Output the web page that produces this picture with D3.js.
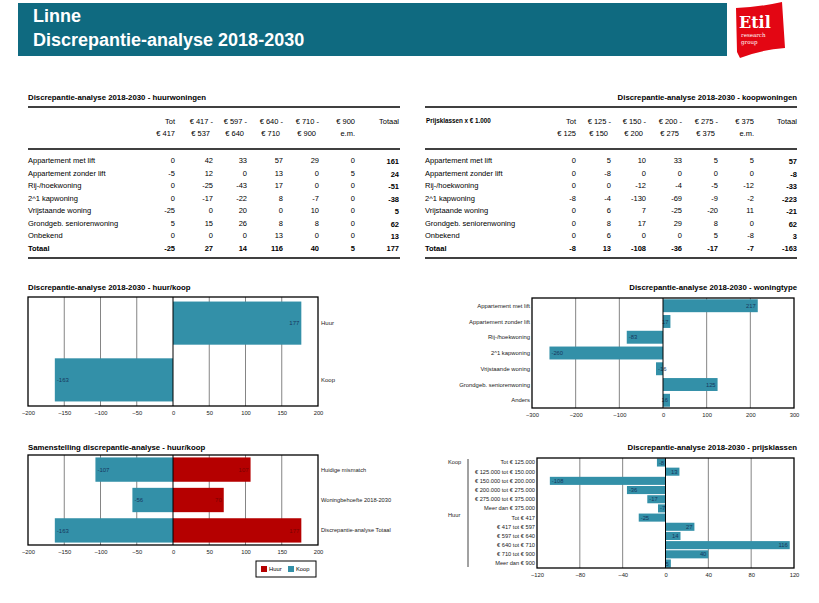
<!DOCTYPE html>
<html><head><meta charset="utf-8">
<script src="https://cdn.jsdelivr.net/npm/d3@7"></script>
<style>
body{margin:0;background:#fff;}
svg{font-family:"Liberation Sans",Arial,sans-serif;}
</style></head>
<body><svg id="c" width="819" height="603"></svg>
<script>
// ---------- DATA ----------
const pageTitle = "Linne";
const pageSubtitle = "Discrepantie-analyse 2018-2030";

const rowLabels = ["Appartement met lift","Appartement zonder lift","Rij-/hoekwoning","2^1 kapwoning","Vrijstaande woning","Grondgeb. seniorenwoning","Onbekend","Totaal"];

const huurHeaders = [["Tot","€ 417"],["€ 417 -","€ 537"],["€ 597 -","€ 640"],["€ 640 -","€ 710"],["€ 710 -","€ 900"],["€ 900","e.m."],["Totaal",""]];
const huurValues = [
  [0,42,33,57,29,0,161],
  [-5,12,0,13,0,5,24],
  [0,-25,-43,17,0,0,-51],
  [0,-17,-22,8,-7,0,-38],
  [-25,0,20,0,10,0,5],
  [5,15,26,8,8,0,62],
  [0,0,0,13,0,0,13],
  [-25,27,14,116,40,5,177]
];

const koopHeaders = [["Tot","€ 125"],["€ 125 -","€ 150"],["€ 150 -","€ 200"],["€ 200 -","€ 275"],["€ 275 -","€ 375"],["€ 375","e.m."],["Totaal",""]];
const koopValues = [
  [0,5,10,33,5,5,57],
  [0,-8,0,0,0,0,-8],
  [0,0,-12,-4,-5,-12,-33],
  [-8,-4,-130,-69,-9,-2,-223],
  [0,6,7,-25,-20,11,-21],
  [0,8,17,29,8,0,62],
  [0,6,0,0,5,-8,3],
  [-8,13,-108,-36,-17,-7,-163]
];

const huurKoopCats = ["Huur","Koop"];
const huurKoopValues = [177,-163];
const huurKoopTicks = [-200,-150,-100,-50,0,50,100,150,200];

const woningtypeCats = ["Appartement met lift","Appartement zonder lift","Rij-/hoekwoning","2^1 kapwoning","Vrijstaande woning","Grondgeb. seniorenwoning","Anders"];
const woningtypeValues = [217,17,-83,-260,-16,125,16];
const woningtypeTicks = [-300,-200,-100,0,100,200,300];

const samenCats = ["Huidige mismatch","Woningbehoefte 2018-2030","Discrepantie-analyse Totaal"];
const samenHuur = [107,70,177];
const samenKoop = [-107,-56,-163];
const samenTicks = [-200,-150,-100,-50,0,50,100,150,200];
const legendLabels = ["Huur","Koop"];

const prijsCats = ["Tot € 125.000","€ 125.000 tot € 150.000","€ 150.000 tot € 200.000","€ 200.000 tot € 275.000","€ 275.000 tot € 375.000","Meer dan € 375.000","Tot € 417","€ 417 tot € 597","€ 597 tot € 640","€ 640 tot € 710","€ 710 tot € 900","Meer dan € 900"];
const prijsValues = [-8,13,-108,-36,-17,-7,-25,27,14,116,40,5];
const prijsGroups = [{label:"Koop",first:0},{label:"Huur",first:6}];
const prijsTicks = [-120,-80,-40,0,40,80,120];

// ---------- STYLE ----------
const TEAL = "#3390a8", RED = "#b50000";
const TEAL_TXT = "#17375e", RED_TXT = "#7a0000";
const svg = d3.select("#c");

// ---------- HEADER ----------
svg.append("rect").attr("x",18).attr("y",3).attr("width",709).attr("height",53).attr("fill","#0f6a80");
svg.append("text").attr("x",33).attr("y",22).attr("fill","#fff").attr("font-size",18).attr("font-weight","bold").text(pageTitle);
svg.append("text").attr("x",33).attr("y",46).attr("fill","#fff").attr("font-size",18).attr("font-weight","bold").text(pageSubtitle);
// logo
svg.append("path").attr("d","M736,8 Q760,7 782,2 L785,48 Q760,50 740,58 L737,52 Z").attr("fill","#e30613");
svg.append("text").attr("x",739).attr("y",28).attr("fill","#fff").attr("font-family","'DejaVu Serif',serif").attr("font-weight","bold").attr("font-size",16).text("Etil");
svg.append("text").attr("x",741).attr("y",37).attr("fill","#fff").attr("font-family","'DejaVu Serif',serif").attr("font-size",5.5).text("research");
svg.append("text").attr("x",741).attr("y",44).attr("fill","#fff").attr("font-family","'DejaVu Serif',serif").attr("font-size",5.5).text("group");

// ---------- TABLES ----------
function drawTable(opts){
  const g = svg.append("g");
  const {x0,x1,title,titleAnchor,headers,values,colX,corner} = opts;
  g.append("text").attr("x", titleAnchor==="end"?x1:x0).attr("y",100).attr("text-anchor",titleAnchor)
    .attr("font-size",7.8).attr("font-weight","bold").text(title);
  [107,149,258].forEach(y=>g.append("line").attr("x1",x0).attr("x2",x1).attr("y1",y).attr("y2",y).attr("stroke","#000").attr("stroke-width",1.4));
  if(corner) g.append("text").attr("x",x0+1).attr("y",123).attr("font-size",6.3).attr("font-weight","bold").text(corner);
  headers.forEach((h,i)=>{
    const off = h[0].endsWith("-") ? 3 : 0;
    g.append("text").attr("x",colX[i]).attr("y",124).attr("text-anchor","end").attr("font-size",7.5).text(h[0]);
    if(h[1]) g.append("text").attr("x",colX[i]-off).attr("y",136).attr("text-anchor","end").attr("font-size",7.5).text(h[1]);
  });
  const rowY = d3.scalePoint().domain(d3.range(rowLabels.length)).range([163,251]);
  rowLabels.forEach((lab,r)=>{
    const bold = r===rowLabels.length-1;
    g.append("text").attr("x",x0).attr("y",rowY(r)).attr("font-size",7.5).attr("font-weight",bold?"bold":"normal").text(lab);
    values[r].forEach((v,c)=>{
      g.append("text").attr("x",colX[c]).attr("y",rowY(r)+(c===6&&!bold?1:0)).attr("text-anchor","end").attr("font-size",7.5)
        .attr("font-weight",(bold||c===6)?"bold":"normal").text(v);
    });
  });
}
drawTable({x0:28,x1:400,title:"Discrepantie-analyse 2018-2030 - huurwoningen",titleAnchor:"start",headers:huurHeaders,values:huurValues,
  colX:[175,213,247,283,319,355,399]});
drawTable({x0:425,x1:797,title:"Discrepantie-analyse 2018-2030 - koopwoningen",titleAnchor:"end",headers:koopHeaders,values:koopValues,
  colX:[576,611,646,682,718,754,797],corner:"Prijsklassen x € 1.000"});

// ---------- BAR CHART HELPER ----------
function barChart(o){
  const g = svg.append("g");
  const x = d3.scaleLinear().domain(o.domain).range([o.left,o.right]);
  const y = d3.scaleBand().domain(o.cats).range([o.top,o.bottom]).paddingInner(o.pi).paddingOuter(o.po);
  g.append("text").attr("x",o.titleX).attr("y",o.titleY).attr("text-anchor",o.titleAnchor).attr("font-size",7.8).attr("font-weight","bold").text(o.title);
  g.selectAll(".grid").data(o.ticks.filter(t=>t!==0 && t!==o.domain[0] && t!==o.domain[1])).join("line")
    .attr("x1",d=>x(d)).attr("x2",d=>x(d)).attr("y1",o.top).attr("y2",o.bottom).attr("stroke","#858585").attr("stroke-width",1);
  const ax = d3.axisBottom(x).tickValues(o.ticks).tickSize(0).tickPadding(0).tickFormat(d3.format("d"));
  const axG = g.append("g").attr("transform",`translate(0,${o.bottom+7})`).call(ax);
  axG.select(".domain").remove();
  axG.selectAll("text").attr("font-size",5.8).attr("fill","#222").attr("font-family","'Liberation Sans',Arial,sans-serif").attr("dy","0.35em");
  o.series.forEach(s=>{
    g.selectAll(null).data(s.values.map((v,i)=>({v,c:o.cats[i]}))).join("rect")
      .attr("x",d=>x(Math.min(0,d.v))).attr("width",d=>Math.abs(x(d.v)-x(0)))
      .attr("y",d=>y(d.c)).attr("height",y.bandwidth()).attr("fill",s.color);
    g.selectAll(null).data(s.values.map((v,i)=>({v,c:o.cats[i]}))).join("text")
      .attr("x",d=>d.v>=0? x(d.v)-2 : x(d.v)+2).attr("text-anchor",d=>d.v>=0?"end":"start")
      .attr("y",d=>y(d.c)+y.bandwidth()/2).attr("dy","0.35em").attr("font-size",o.valSize||6).attr("fill",s.txt).text(d=>d.v);
  });
  g.append("line").attr("x1",x(0)).attr("x2",x(0)).attr("y1",o.top).attr("y2",o.bottom).attr("stroke","#000").attr("stroke-width",1);
  g.append("rect").attr("x",o.left).attr("y",o.top).attr("width",o.right-o.left).attr("height",o.bottom-o.top)
    .attr("fill","none").attr("stroke","#000").attr("stroke-width",1.3);
  g.selectAll(null).data(o.cats).join("text")
    .attr("x",o.catSide==="right"? o.right+3 : o.left-2).attr("text-anchor",o.catSide==="right"?"start":"end")
    .attr("y",d=>y(d)+y.bandwidth()/2).attr("dy","0.35em").attr("font-size",o.catSize).attr("fill","#222").text(d=>d);
  return {x,y,g};
}

barChart({title:"Discrepantie-analyse 2018-2030 - huur/koop",titleX:28,titleY:290,titleAnchor:"start",
  left:28,right:318,top:297,bottom:406,domain:[-200,200],ticks:huurKoopTicks,cats:huurKoopCats,pi:0.24,po:0.08,
  series:[{values:huurKoopValues,color:TEAL,txt:TEAL_TXT}],catSide:"right",catSize:6});

barChart({title:"Discrepantie-analyse 2018-2030 - woningtype",titleX:797,titleY:290,titleAnchor:"end",
  left:532,right:794,top:298,bottom:408,domain:[-300,300],ticks:woningtypeTicks,cats:woningtypeCats,pi:0.18,po:0.08,
  series:[{values:woningtypeValues,color:TEAL,txt:TEAL_TXT}],catSide:"left",catSize:5.9,valSize:5.8});

barChart({title:"Samenstelling discrepantie-analyse - huur/koop",titleX:28,titleY:450,titleAnchor:"start",
  left:28,right:318,top:455,bottom:545,domain:[-200,200],ticks:samenTicks,cats:samenCats,pi:0.2,po:0.08,
  series:[{values:samenKoop,color:TEAL,txt:TEAL_TXT},{values:samenHuur,color:RED,txt:RED_TXT}],catSide:"right",catSize:5.7});

const lg = svg.append("g");
lg.append("rect").attr("x",256).attr("y",561).attr("width",60).attr("height",16).attr("fill","#fff").attr("stroke","#000").attr("stroke-width",1);
legendLabels.forEach((l,i)=>{
  const lx = 261 + i*27;
  lg.append("rect").attr("x",lx).attr("y",566).attr("width",6).attr("height",6).attr("fill",i===0?RED:TEAL);
  lg.append("text").attr("x",lx+8).attr("y",569).attr("dy","0.35em").attr("font-size",5.8).text(l);
});

const pc = barChart({title:"Discrepantie-analyse 2018-2030 - prijsklassen",titleX:797,titleY:450,titleAnchor:"end",
  left:537,right:794,top:458,bottom:568,domain:[-120,120],ticks:prijsTicks,cats:prijsCats,pi:0.12,po:0.05,
  series:[{values:prijsValues,color:TEAL,txt:TEAL_TXT}],catSide:"left",catSize:5.7,valSize:5.8});
prijsGroups.forEach(gp=>{
  svg.append("text").attr("x",448).attr("y",pc.y(prijsCats[gp.first])+pc.y.bandwidth()/2 - (gp.first>0?3:0)).attr("dy","0.35em")
    .attr("font-size",5.7).attr("fill","#222").text(gp.label);
});
svg.append("line").attr("x1",468).attr("x2",468).attr("y1",459).attr("y2",567).attr("stroke","#444").attr("stroke-width",1);
</script></body></html>
